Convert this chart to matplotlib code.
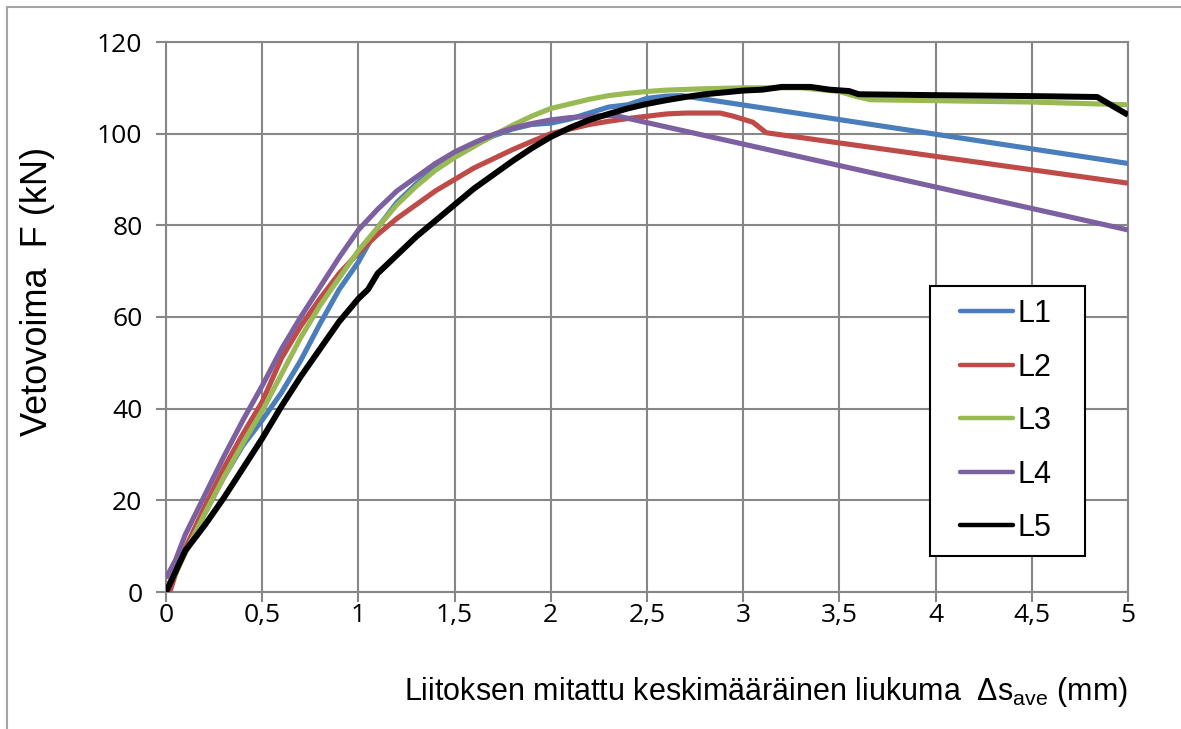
import matplotlib
matplotlib.use("Agg")
import matplotlib.pyplot as plt
from matplotlib.lines import Line2D
from matplotlib.legend_handler import HandlerLine2D

# ---- data ----
l1_x = [0, 0.05, 0.1, 0.2, 0.3, 0.4, 0.5, 0.6, 0.7, 0.8, 0.9, 1.0, 1.1, 1.2, 1.3, 1.4, 1.5,
        1.6, 1.7, 1.8, 1.9, 2.0, 2.1, 2.2, 2.3, 2.4, 2.5, 2.6, 2.68, 5.0]
l1_y = [0, 4, 9, 17, 25, 32, 37.5, 43.5, 50.5, 58.5, 66, 72, 79.5, 85, 89, 92.5, 95,
        97.5, 99.5, 101, 102, 102.3, 103.2, 104.5, 105.8, 106.3, 107.7, 108.2, 108.3, 93.5]

l2_x = [0.02, 0.05, 0.1, 0.2, 0.3, 0.4, 0.5, 0.6, 0.7, 0.8, 0.9, 1.0, 1.1, 1.2, 1.3, 1.4, 1.5,
        1.6, 1.7, 1.8, 1.9, 2.0, 2.1, 2.2, 2.3, 2.4, 2.5, 2.6, 2.7, 2.88, 2.95, 3.05, 3.12, 5.0]
l2_y = [0, 4, 9.5, 18.5, 27, 34.5, 41.5, 51, 58, 64, 69.5, 74, 78, 81.5, 84.5, 87.5, 90,
        92.5, 94.5, 96.5, 98.3, 100, 101, 102, 102.7, 103.3, 103.8, 104.3, 104.5, 104.5, 103.8, 102.5, 100.2, 89.2]

l3_x = [0, 0.05, 0.1, 0.2, 0.3, 0.4, 0.5, 0.6, 0.7, 0.8, 0.9, 1.0, 1.1, 1.2, 1.3, 1.4, 1.5,
        1.6, 1.7, 1.8, 1.9, 2.0, 2.1, 2.2, 2.3, 2.4, 2.5, 2.6, 2.8, 3.0, 3.3, 3.5, 3.58, 3.66,
        4.0, 4.5, 5.0]
l3_y = [1, 4, 8.5, 17, 25, 32.5, 39.5, 47.5, 55.5, 62.5, 68.5, 74.5, 79.5, 84.5, 88.5, 92, 94.8,
        97.2, 99.6, 101.8, 103.8, 105.5, 106.5, 107.5, 108.3, 108.8, 109.2, 109.5, 109.8, 110, 110, 109.2, 108.2, 107.4,
        107.2, 106.9, 106.3]

l4_x = [0, 0.05, 0.1, 0.2, 0.3, 0.4, 0.5, 0.6, 0.7, 0.8, 0.9, 1.0, 1.1, 1.2, 1.3, 1.4, 1.5,
        1.6, 1.7, 1.8, 1.9, 2.0, 2.1, 2.2, 2.33, 5.0]
l4_y = [3, 7, 12.5, 21, 29.5, 37.5, 45, 53, 60, 66.5, 73, 79, 83.5, 87.5, 90.5, 93.5, 96,
        98, 99.8, 101.2, 102.2, 103, 103.5, 103.8, 104, 79]

l5_x = [0, 0.05, 0.1, 0.2, 0.3, 0.4, 0.5, 0.6, 0.7, 0.8, 0.9, 1.0, 1.05, 1.1, 1.2, 1.3, 1.4, 1.5,
        1.6, 1.7, 1.8, 1.9, 2.0, 2.1, 2.2, 2.3, 2.4, 2.5, 2.6, 2.7, 2.8, 2.9, 3.0, 3.1, 3.2, 3.35,
        3.45, 3.55, 3.6, 4.0, 4.5, 4.84, 5.0]
l5_y = [0, 4.5, 9, 14.5, 20.5, 27, 33.5, 40.5, 47, 53, 59, 64, 66, 69.5, 73.5, 77.5, 81, 84.5,
        88, 91, 94, 96.8, 99.3, 101.3, 103, 104.3, 105.5, 106.5, 107.3, 108, 108.6, 109, 109.4, 109.6, 110.2, 110.2,
        109.6, 109.3, 108.6, 108.4, 108.2, 108.0, 104.1]

series_labels = ["L1", "L2", "L3", "L4", "L5"]
x_ticks = [0, 0.5, 1, 1.5, 2, 2.5, 3, 3.5, 4, 4.5, 5]
x_tick_labels = ["0", "0,5", "1", "1,5", "2", "2,5", "3", "3,5", "4", "4,5", "5"]
y_ticks = [0, 20, 40, 60, 80, 100, 120]

colors = ["#4A7EBB", "#BE4B48", "#98B954", "#7D60A0", "#000000"]
widths = [3.7, 3.7, 3.7, 3.7, 4.3]

plt.rcParams['mathtext.fontset'] = 'custom'
plt.rcParams['mathtext.rm'] = 'Liberation Sans'
plt.rcParams['mathtext.it'] = 'Liberation Sans'

W, H = 1181, 729
fig = plt.figure(figsize=(W / 100, H / 100), dpi=100)
ax = fig.add_axes([166 / W, 1 - 592 / H, (1128 - 166) / W, (592 - 42) / H])

# figure border (partial, as in reference)
fig.add_artist(Line2D([7 / W, 1.0], [1 - 7 / H, 1 - 7 / H], transform=fig.transFigure,
                      color="#A6A6A6", lw=1.5))
fig.add_artist(Line2D([7 / W, 7 / W], [1 - 7 / H, 0], transform=fig.transFigure,
                      color="#A6A6A6", lw=1.5))

xs = [l1_x, l2_x, l3_x, l4_x, l5_x]
ys = [l1_y, l2_y, l3_y, l4_y, l5_y]
for x, y, c, w, lab in zip(xs, ys, colors, widths, series_labels):
    ax.plot(x, y, color=c, lw=w, label=lab, solid_capstyle='butt', solid_joinstyle='round', zorder=3)

ax.set_xlim(0, 5)
ax.set_ylim(0, 120)
ax.set_xticks(x_ticks)
ax.set_xticklabels(x_tick_labels)
ax.set_yticks(y_ticks)
ax.grid(True, color="#878787", lw=1.5, zorder=0)
ax.set_axisbelow(True)
for s in ax.spines.values():
    s.set_color("#878787")
    s.set_linewidth(1.5)

ax.tick_params(axis='both', colors="#878787", width=1.5, length=7)
ax.tick_params(axis='y', pad=10)
ax.tick_params(axis='x', pad=1)
for t in ax.get_xticklabels() + ax.get_yticklabels():
    t.set_color("black")
    t.set_fontfamily("Open Sans")
    t.set_fontsize(19)

fig.text(1128 / W, 1 - 692 / H,
         r"Liitoksen mitattu keskimääräinen liukuma  $\Delta$s$_{\mathrm{ave}}$ (mm)",
         ha='right', va='center', fontsize=22, family="Liberation Sans")
fig.text(38 / W, 1 - 291 / H, "Vetovoima  F (kN)", rotation=90, ha='center', va='center',
         fontsize=26, family="Liberation Sans")

leg_fs = 22
leg = ax.legend(loc='upper left', bbox_to_anchor=(0.794, 0.556, 0.161, 0.0), mode='expand',
                frameon=True, fancybox=False, edgecolor='black', framealpha=1,
                prop={'family': 'Liberation Sans', 'size': leg_fs}, handlelength=2.29,
                handletextpad=0.16, labelspacing=0.77, borderpad=0.42, borderaxespad=0,
                handler_map={Line2D: HandlerLine2D(xpad=0.56)})
leg.get_frame().set_linewidth(1.5)
for h in leg.get_lines():
    h.set_solid_capstyle('round')
    h.set_linewidth(3.2)
leg.set_zorder(5)

fig.savefig("out.png", dpi=100)
